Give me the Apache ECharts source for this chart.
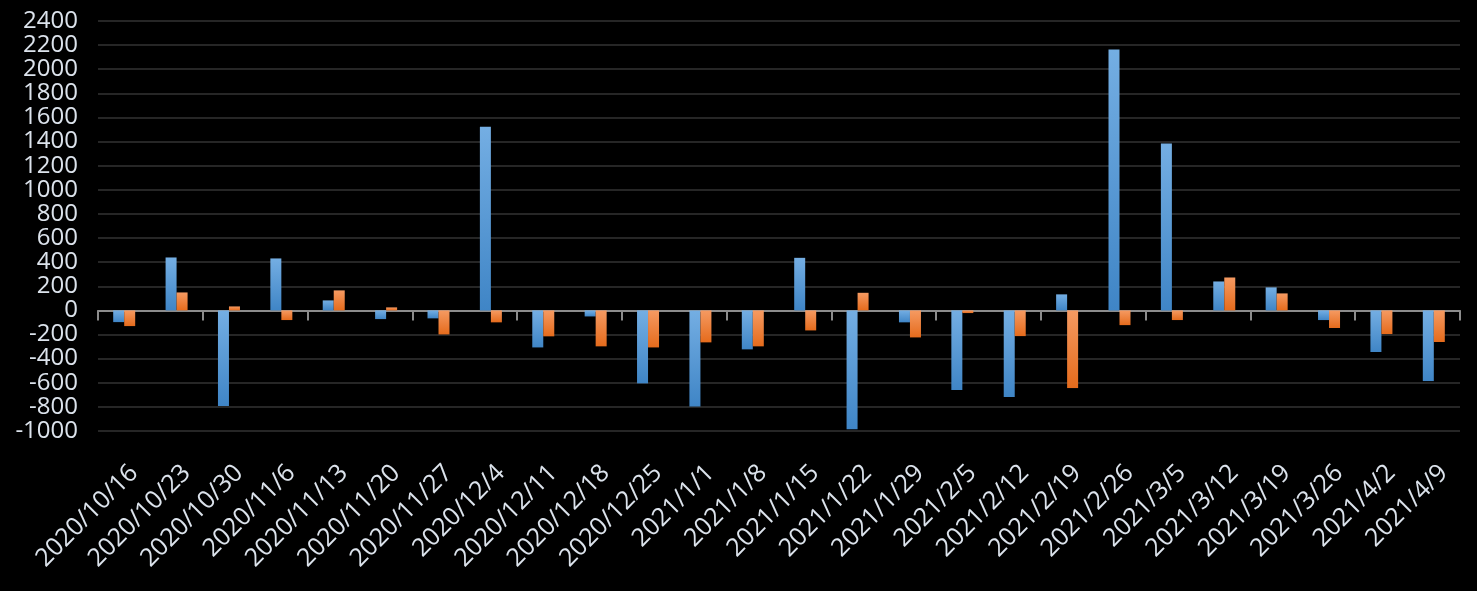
<!DOCTYPE html>
<html>
<head>
<meta charset="utf-8">
<script src="https://cdn.jsdelivr.net/npm/echarts@6/dist/echarts.min.js"></script>
<style>
html,body{margin:0;padding:0;background:#000;}
#chart{width:1477px;height:591px;}
</style>
</head>
<body>
<div id="chart"></div>
<script>
const categories = ['2020/10/16','2020/10/23','2020/10/30','2020/11/6','2020/11/13','2020/11/20','2020/11/27','2020/12/4','2020/12/11','2020/12/18','2020/12/25','2021/1/1','2021/1/8','2021/1/15','2021/1/22','2021/1/29','2021/2/5','2021/2/12','2021/2/19','2021/2/26','2021/3/5','2021/3/12','2021/3/19','2021/3/26','2021/4/2','2021/4/9'];
const seriesBlue = [-97, 439, -793, 431, 83, -72, -66, 1523, -307, -50, -605, -796, -323, 436, -986, -99, -660, -718, 133, 2163, 1384, 240, 191, -80, -345, -586];
const seriesOrange = [-130, 149, 33, -80, 166, 25, -199, -99, -215, -298, -307, -265, -298, -166, 146, -224, -22, -213, -644, -122, -80, 273, 141, -146, -196, -262];
const yMin = -1000, yMax = 2400, yStep = 200;

const chart = echarts.init(document.getElementById('chart'));
const grad = (a, b) => new echarts.graphic.LinearGradient(0, 0, 0, 1, [{offset: 0, color: a}, {offset: 1, color: b}]);
chart.setOption({
  backgroundColor: '#000000',
  animation: false,
  grid: [
    {left: 98, right: 17, top: 21, bottom: 160, containLabel: false},
    {left: 108, right: 7, top: 21, bottom: 160, containLabel: false}
  ],
  xAxis: [
    {
      type: 'category', gridIndex: 0, data: categories,
      axisLine: {show: true, onZero: true, lineStyle: {color: '#8c8c8c', width: 2}},
      axisTick: {show: true, length: 10, lineStyle: {color: '#8c8c8c', width: 2}},
      axisLabel: {show: false},
      splitLine: {show: false}
    },
    {
      type: 'category', gridIndex: 1, data: categories, position: 'bottom',
      axisLine: {show: false, onZero: false},
      axisTick: {show: false},
      axisLabel: {show: true, interval: 0, rotate: 45, margin: 38, color: '#dce3ec', fontFamily: 'Open Sans', fontSize: 25}
    }
  ],
  yAxis: [
    {
      type: 'value', gridIndex: 0, min: yMin, max: yMax, interval: yStep,
      axisLine: {show: false}, axisTick: {show: false},
      axisLabel: {color: '#dce3ec', fontFamily: 'Open Sans', fontSize: 24, margin: 20, formatter: v => String(v)},
      splitLine: {show: true, lineStyle: {color: '#262626', width: 2}}
    },
    {
      type: 'value', gridIndex: 1, min: yMin, max: yMax, interval: yStep, show: false
    }
  ],
  series: [
    {
      type: 'bar', name: 'A', xAxisIndex: 0, yAxisIndex: 0, data: seriesBlue,
      barWidth: 11, barGap: '0%',
      itemStyle: {color: grad('#74aee3', '#3f85c6')}
    },
    {
      type: 'bar', name: 'B', xAxisIndex: 0, yAxisIndex: 0, data: seriesOrange,
      barWidth: 11, barGap: '0%',
      itemStyle: {color: grad('#f59a62', '#e56b1c')}
    },
    {
      type: 'bar', name: 'labels', xAxisIndex: 1, yAxisIndex: 1, data: [], silent: true
    }
  ]
});
</script>
</body>
</html>
